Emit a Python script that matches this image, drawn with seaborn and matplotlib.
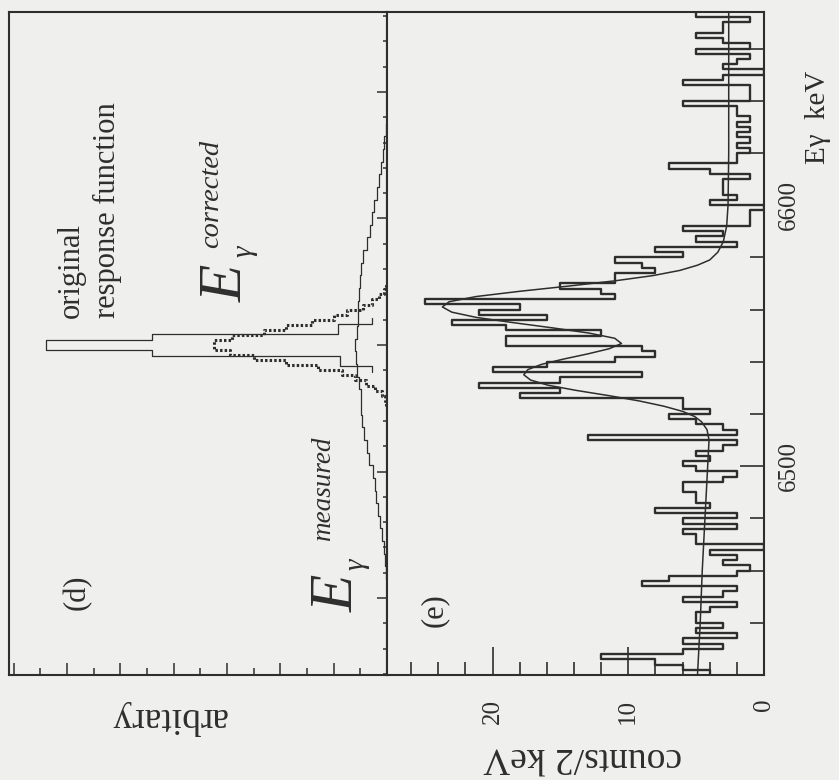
import numpy as np
import matplotlib
matplotlib.use("Agg")
import matplotlib.pyplot as plt
from matplotlib.ticker import MultipleLocator, FormatStrFormatter, NullFormatter
import seaborn as sns

# ---------------- panel (e): measured spectrum, 2 keV bins ----------------
e_bin_start = 6420.0
e_bin_width = 2.0
e_counts = [4, 6, 8, 12, 6, 3, 6, 2, 5, 3,
            5, 5, 4, 2, 6, 3, 2, 9, 7, 2,
            1, 3, 2, 4, 0, 5, 5, 6, 2, 6,
            2, 8, 4, 5, 5, 6, 6, 3, 2, 5,
            6, 4, 5, 3, 2, 13, 2, 3, 5, 7,
            4, 6, 6, 18, 15, 21, 15, 9, 20, 16,
            11, 8, 9, 19, 19, 12, 19, 23, 16, 21,
            18, 25, 11, 12, 15, 11, 11, 8, 9, 11,
            6, 8, 2, 5, 3, 6, 1, 1, 1, 0,
            4, 2, 3, 3, 3, 1, 4, 7, 2, 2,
            1, 2, 1, 2, 1, 2, 1, 2, 2, 6,
            1, 1, 1, 6, 3, 0, 3, 2, 1, 5,
            1, 3, 5, 3, 3, 1, 5]

# fitted curve (energy keV, counts)
fit_energy = [6420, 6440, 6460, 6480, 6500, 6510, 6514, 6517, 6519, 6521,
              6523, 6525, 6527, 6529, 6531, 6533, 6535, 6537, 6539, 6541,
              6543, 6545, 6547, 6549, 6551, 6553, 6555, 6557, 6559, 6561,
              6563, 6565, 6567, 6569, 6571, 6573, 6575, 6577, 6579, 6582,
              6586, 6592, 6600, 6620, 6650, 6674]
fit_counts = [4.9, 4.7, 4.55, 4.35, 4.15, 4.05, 4.2, 4.6, 5.1, 6.0,
              7.4, 9.2, 11.4, 13.8, 15.9, 17.2, 17.7, 17.4, 16.4, 14.8,
              13.0, 11.4, 10.5, 11.0, 12.9, 15.6, 18.5, 21.2, 23.0, 23.7,
              23.2, 21.2, 18.0, 14.4, 11.0, 8.2, 6.2, 4.9, 4.0, 3.4,
              3.0, 2.75, 2.65, 2.6, 2.6, 2.6]

# ---------------- panel (d): response functions (arbitrary units) ----------------
measured_width = 0.5
measured_centers = np.arange(-9.0, 9.01, measured_width)
measured_values = [0.01, 0.03, 0.06, 0.09, 0.13, 0.17, 0.20, 0.23, 0.27, 0.33,
                   0.37, 0.43, 0.47, 0.48, 0.49, 0.52, 0.56, 0.58, 0.60, 0.56,
                   0.55, 0.54, 0.52, 0.50, 0.48, 0.45, 0.37, 0.32, 0.28, 0.24,
                   0.19, 0.15, 0.12, 0.08, 0.05, 0.02, 0.00]

corrected_width = 0.2
corrected_centers = np.arange(-2.3, 2.31, corrected_width)
corrected_values = [0.01, 0.03, 0.10, 0.22, 0.40, 0.60, 0.85, 1.30, 1.90, 2.50,
                    2.95, 3.25, 3.25, 2.90, 2.30, 1.90, 1.40, 1.00, 0.75, 0.45,
                    0.28, 0.15, 0.06, 0.02]

original_width = 0.21
original_centers = np.arange(-0.945, 0.95, original_width)
original_values = [0.28, 0.88, 0.88, 4.4, 6.4, 6.4, 4.4, 0.92, 0.92, 0.28]

# tick labels / texts
count_ticks = [0, 10, 20]
energy_ticks = [6500, 6600]

# ---------------- styling ----------------
sns.set_theme(style="ticks")
plt.rcParams['font.family'] = ['Liberation Serif', 'DejaVu Serif']
INK = '#2e2e2e'
BG = '#efefed'

W, H = 839, 780
fig = plt.figure(figsize=(W / 100, H / 100), dpi=100)
fig.patch.set_facecolor(BG)


def fx(x):
    return x / W


def fy(y):
    return 1 - y / H


ax_d = fig.add_axes([fx(9), fy(675), (387 - 9) / W, (675 - 12) / H])
ax_e = fig.add_axes([fx(387), fy(675), (764 - 387) / W, (675 - 12) / H])
for ax in (ax_d, ax_e):
    ax.set_facecolor(BG)
    for s in ax.spines.values():
        s.set_linewidth(1.5)
        s.set_color(INK)
        s.set_visible(True)


def edges_from(centers, width):
    c = np.asarray(centers, dtype=float)
    return [float(v) for v in np.append(c - width / 2, c[-1] + width / 2)]


# ---- panel (e) ----
e_edges = e_bin_start + e_bin_width * np.arange(len(e_counts) + 1)
e_centers = e_edges[:-1] + e_bin_width / 2
sns.histplot(y=e_centers, weights=e_counts, bins=[float(v) for v in e_edges],
             element="step", fill=False, color=INK, linewidth=1.7, ax=ax_e)
sns.lineplot(x=fit_counts, y=fit_energy, sort=False, estimator=None,
             color=INK, linewidth=1.1, ax=ax_e)
ax_e.set_xlim(27.78, 0)
ax_e.set_ylim(6420, 6674)
ax_e.set_xlabel('')
ax_e.set_ylabel('')
ax_e.set_xticks(count_ticks)
ax_e.xaxis.set_minor_locator(MultipleLocator(2))
ax_e.set_yticks(energy_ticks)
ax_e.yaxis.set_minor_locator(MultipleLocator(20))
ax_e.xaxis.set_major_formatter(FormatStrFormatter('%d'))
ax_e.yaxis.set_major_formatter(FormatStrFormatter('%d'))
ax_e.yaxis.tick_right()
ax_e.tick_params(axis='x', which='major', direction='in', length=20, width=1.2,
                 pad=17, labelsize=18, labelrotation=90, top=False, bottom=True,
                 color=INK, labelcolor=INK)
ax_e.tick_params(axis='x', which='minor', direction='in', length=9.5, width=1.2,
                 top=False, bottom=True, color=INK)
ax_e.tick_params(axis='y', which='major', direction='in', length=17, width=1.2,
                 pad=10, labelsize=18, labelrotation=90, left=False, right=True,
                 labelleft=False, labelright=True, color=INK, labelcolor=INK)
ax_e.tick_params(axis='y', which='minor', direction='in', length=10, width=1.2,
                 left=False, right=True, color=INK)
for lab in ax_e.get_yticklabels(which='major'):
    lab.set_verticalalignment('center')

# ---- panel (d) ----
sns.histplot(y=measured_centers, weights=measured_values,
             bins=edges_from(measured_centers, measured_width), element="step",
             fill=False, color=INK, linewidth=0.9, ax=ax_d)
sns.histplot(y=corrected_centers, weights=corrected_values,
             bins=edges_from(corrected_centers, corrected_width), element="step",
             fill=False, color=INK, linewidth=2.2, linestyle=(0, (0.8, 0.7)), ax=ax_d)
sns.histplot(y=original_centers, weights=original_values,
             bins=edges_from(original_centers, original_width), element="step",
             fill=False, color=INK, linewidth=0.9, ax=ax_d)
ax_d.set_xlim(7.09, 0)
ax_d.set_ylim(-13.04, 13.16)
ax_d.set_xlabel('')
ax_d.set_ylabel('')
ax_d.xaxis.set_major_locator(MultipleLocator(1))
ax_d.xaxis.set_minor_locator(MultipleLocator(0.5))
ax_d.yaxis.set_major_locator(MultipleLocator(5))
ax_d.yaxis.set_minor_locator(MultipleLocator(1))
ax_d.xaxis.set_major_formatter(NullFormatter())
ax_d.yaxis.set_major_formatter(NullFormatter())
ax_d.yaxis.tick_right()
ax_d.tick_params(axis='x', which='major', direction='in', length=9, width=1.1,
                 top=False, bottom=True, labelbottom=False, color=INK)
ax_d.tick_params(axis='x', which='minor', direction='in', length=5, width=1.1,
                 top=False, bottom=True, color=INK)
ax_d.tick_params(axis='y', which='major', direction='in', length=7, width=1.1,
                 left=False, right=True, labelright=False, labelleft=False, color=INK)
ax_d.tick_params(axis='y', which='minor', direction='in', length=3, width=1.1,
                 left=False, right=True, color=INK)

# ---------------- texts ----------------
def rtext(x, y, s, size, rot=90, style='normal', ha='left', va='baseline', mode='anchor'):
    fig.text(fx(x), fy(y), s, fontsize=size, rotation=rot, style=style,
             ha=ha, va=va, rotation_mode=mode, color=INK)


rtext(79, 318, 'original', 22)
rtext(115, 318, 'response function', 22)
rtext(242, 302, 'E', 44, style='italic')
rtext(251, 257, 'γ', 21, style='italic')
rtext(218, 248, 'corrected', 20.5, style='italic')
rtext(353, 612, 'E', 44, style='italic')
rtext(363, 570, 'γ', 21, style='italic')
rtext(330, 541, 'measured', 19.5, style='italic')
rtext(77, 592, '(d)', 22, ha='center', va='center', mode='default')
rtext(434, 610, '(e)', 22, ha='center', va='center', mode='default')
rtext(168, 718, 'arbitary', 27, rot=180, ha='center', va='center', mode='default')
rtext(583, 757, 'counts/2 keV', 27, rot=180, ha='center', va='center', mode='default')
rtext(818, 117, 'Eγ  keV', 21, ha='center', va='center', mode='default')

fig.savefig('out.png', dpi=100, facecolor=BG)
